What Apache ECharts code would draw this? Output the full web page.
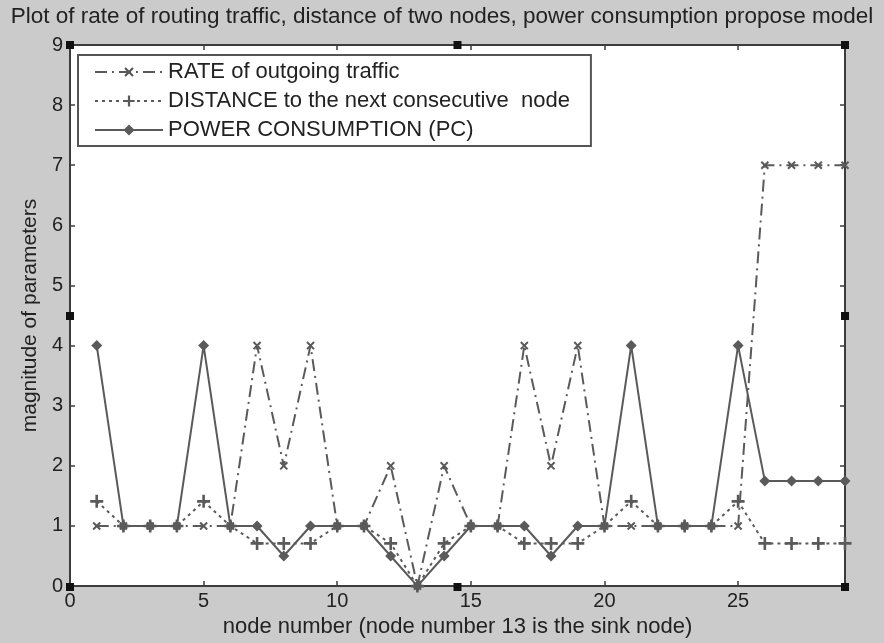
<!DOCTYPE html>
<html>
<head>
<meta charset="utf-8">
<script src="https://cdn.jsdelivr.net/npm/echarts@6/dist/echarts.min.js"></script>
<style>
  html, body { margin: 0; padding: 0; background: #cbcbcb; }
  #main { width: 884px; height: 643px; }
</style>
</head>
<body>
<div id="main"></div>
<script>
// node numbers
var nodes = [1,2,3,4,5,6,7,8,9,10,11,12,13,14,15,16,17,18,19,20,21,22,23,24,25,26,27,28,29]
// RATE of outgoing traffic
var rate = [1,1,1,1,1,1,4,2,4,1,1,2,0,2,1,1,4,2,4,1,1,1,1,1,1,7,7,7,7]
// DISTANCE to the next consecutive node
var dist = [1.41,1,1,1,1.41,1,0.71,0.71,0.71,1,1,0.71,0,0.71,1,1,0.71,0.71,0.71,1,1.41,1,1,1,1.41,0.71,0.71,0.71,0.71]
// POWER CONSUMPTION (PC)
var pc = [4,1,1,1,4,1,1,0.5,1,1,1,0.5,0,0.5,1,1,1,0.5,1,1,4,1,1,1,4,1.75,1.75,1.75,1.75]

var seriesNames = ['RATE of outgoing traffic', 'DISTANCE to the next consecutive  node', 'POWER CONSUMPTION (PC)']

var font = 'Liberation Sans, Arial, sans-serif'
var lineCol = '#5a5a5a'
var plusPath = 'path://M4,0h2v10h-2zM0,4h10v2h-10z'

function pairs (vals) {
  return nodes.map(function (n, i) { return [n, vals[i]] })
}

// plot area in pixels
var G = { left: 70, right: 39, top: 45, bottom: 56 }

var chart = echarts.init(document.getElementById('main'))

function axisCommon (extra) {
  var a = {
    axisLine: { show: true, onZero: false, lineStyle: { color: '#3c3c3c', width: 2 } },
    axisTick: { show: true, inside: true, length: 5, lineStyle: { color: '#3c3c3c', width: 1.5 } },
    splitLine: { show: false },
    axisLabel: { color: '#222', fontFamily: font, fontSize: 20 }
  }
  for (var k in extra) a[k] = extra[k]
  return a
}

var W = 884, H = 643
var px0 = G.left, px1 = W - G.right, py0 = G.top, py1 = H - G.bottom
var handles = [
  [px0, py0], [(px0 + px1) / 2, py0], [px1, py0],
  [px0, (py0 + py1) / 2], [px1, (py0 + py1) / 2],
  [px0, py1], [(px0 + px1) / 2, py1], [px1, py1]
].map(function (p) {
  return { type: 'rect', shape: { x: p[0] - 4, y: p[1] - 4, width: 8, height: 8 }, style: { fill: '#111' }, z: 100 }
})

var option = {
  backgroundColor: '#cbcbcb',
  animation: false,
  title: {
    text: 'Plot of rate of routing traffic, distance of two nodes, power consumption propose model',
    left: 'center', top: 0,
    textStyle: { fontFamily: font, fontSize: 22.5, fontWeight: 'normal', color: '#222' }
  },
  grid: { left: G.left, right: G.right, top: G.top, bottom: G.bottom, show: true, backgroundColor: '#fff', borderWidth: 0 },
  legend: {
    orient: 'vertical', left: 78, top: 55,
    data: seriesNames,
    itemWidth: 68, itemHeight: 14, itemGap: 7,
    padding: [6, 21, 5, 16],
    backgroundColor: '#fff', borderColor: '#555', borderWidth: 2,
    textStyle: { fontFamily: font, fontSize: 22, color: '#222' }
  },
  xAxis: [
    axisCommon({
      type: 'value', min: 0, max: 29, interval: 5, position: 'bottom',
      name: 'node number (node number 13 is the sink node)', nameLocation: 'middle', nameGap: 29,
      nameTextStyle: { fontFamily: font, fontSize: 22, color: '#222' },
      axisLabel: { color: '#222', fontFamily: font, fontSize: 20, margin: 5, showMaxLabel: false }
    }),
    axisCommon({ type: 'value', min: 0, max: 29, interval: 5, position: 'top', axisLabel: { show: false } })
  ],
  yAxis: [
    axisCommon({
      type: 'value', min: 0, max: 9, interval: 1, position: 'left',
      name: 'magnitude of parameters', nameLocation: 'middle', nameGap: 29,
      nameTextStyle: { fontFamily: font, fontSize: 21, color: '#222' },
      axisLabel: { color: '#222', fontFamily: font, fontSize: 20, margin: 7 }
    }),
    axisCommon({ type: 'value', min: 0, max: 9, interval: 1, position: 'right', axisLabel: { show: false } })
  ],
  graphic: handles,
  series: [
    {
      name: seriesNames[0], type: 'line', data: pairs(rate),
      lineStyle: { color: lineCol, width: 2, type: [12, 5, 2, 5] },
      symbol: plusPath, symbolSize: 10, symbolRotate: 45,
      itemStyle: { color: lineCol }, z: 3
    },
    {
      name: seriesNames[1], type: 'line', data: pairs(dist),
      lineStyle: { color: lineCol, width: 2, type: [3, 4] },
      symbol: plusPath, symbolSize: 13,
      itemStyle: { color: lineCol }, z: 4
    },
    {
      name: seriesNames[2], type: 'line', data: pairs(pc),
      lineStyle: { color: lineCol, width: 2, type: 'solid' },
      symbol: 'diamond', symbolSize: 11,
      itemStyle: { color: lineCol }, z: 5
    }
  ]
}

chart.setOption(option)
</script>
</body>
</html>
